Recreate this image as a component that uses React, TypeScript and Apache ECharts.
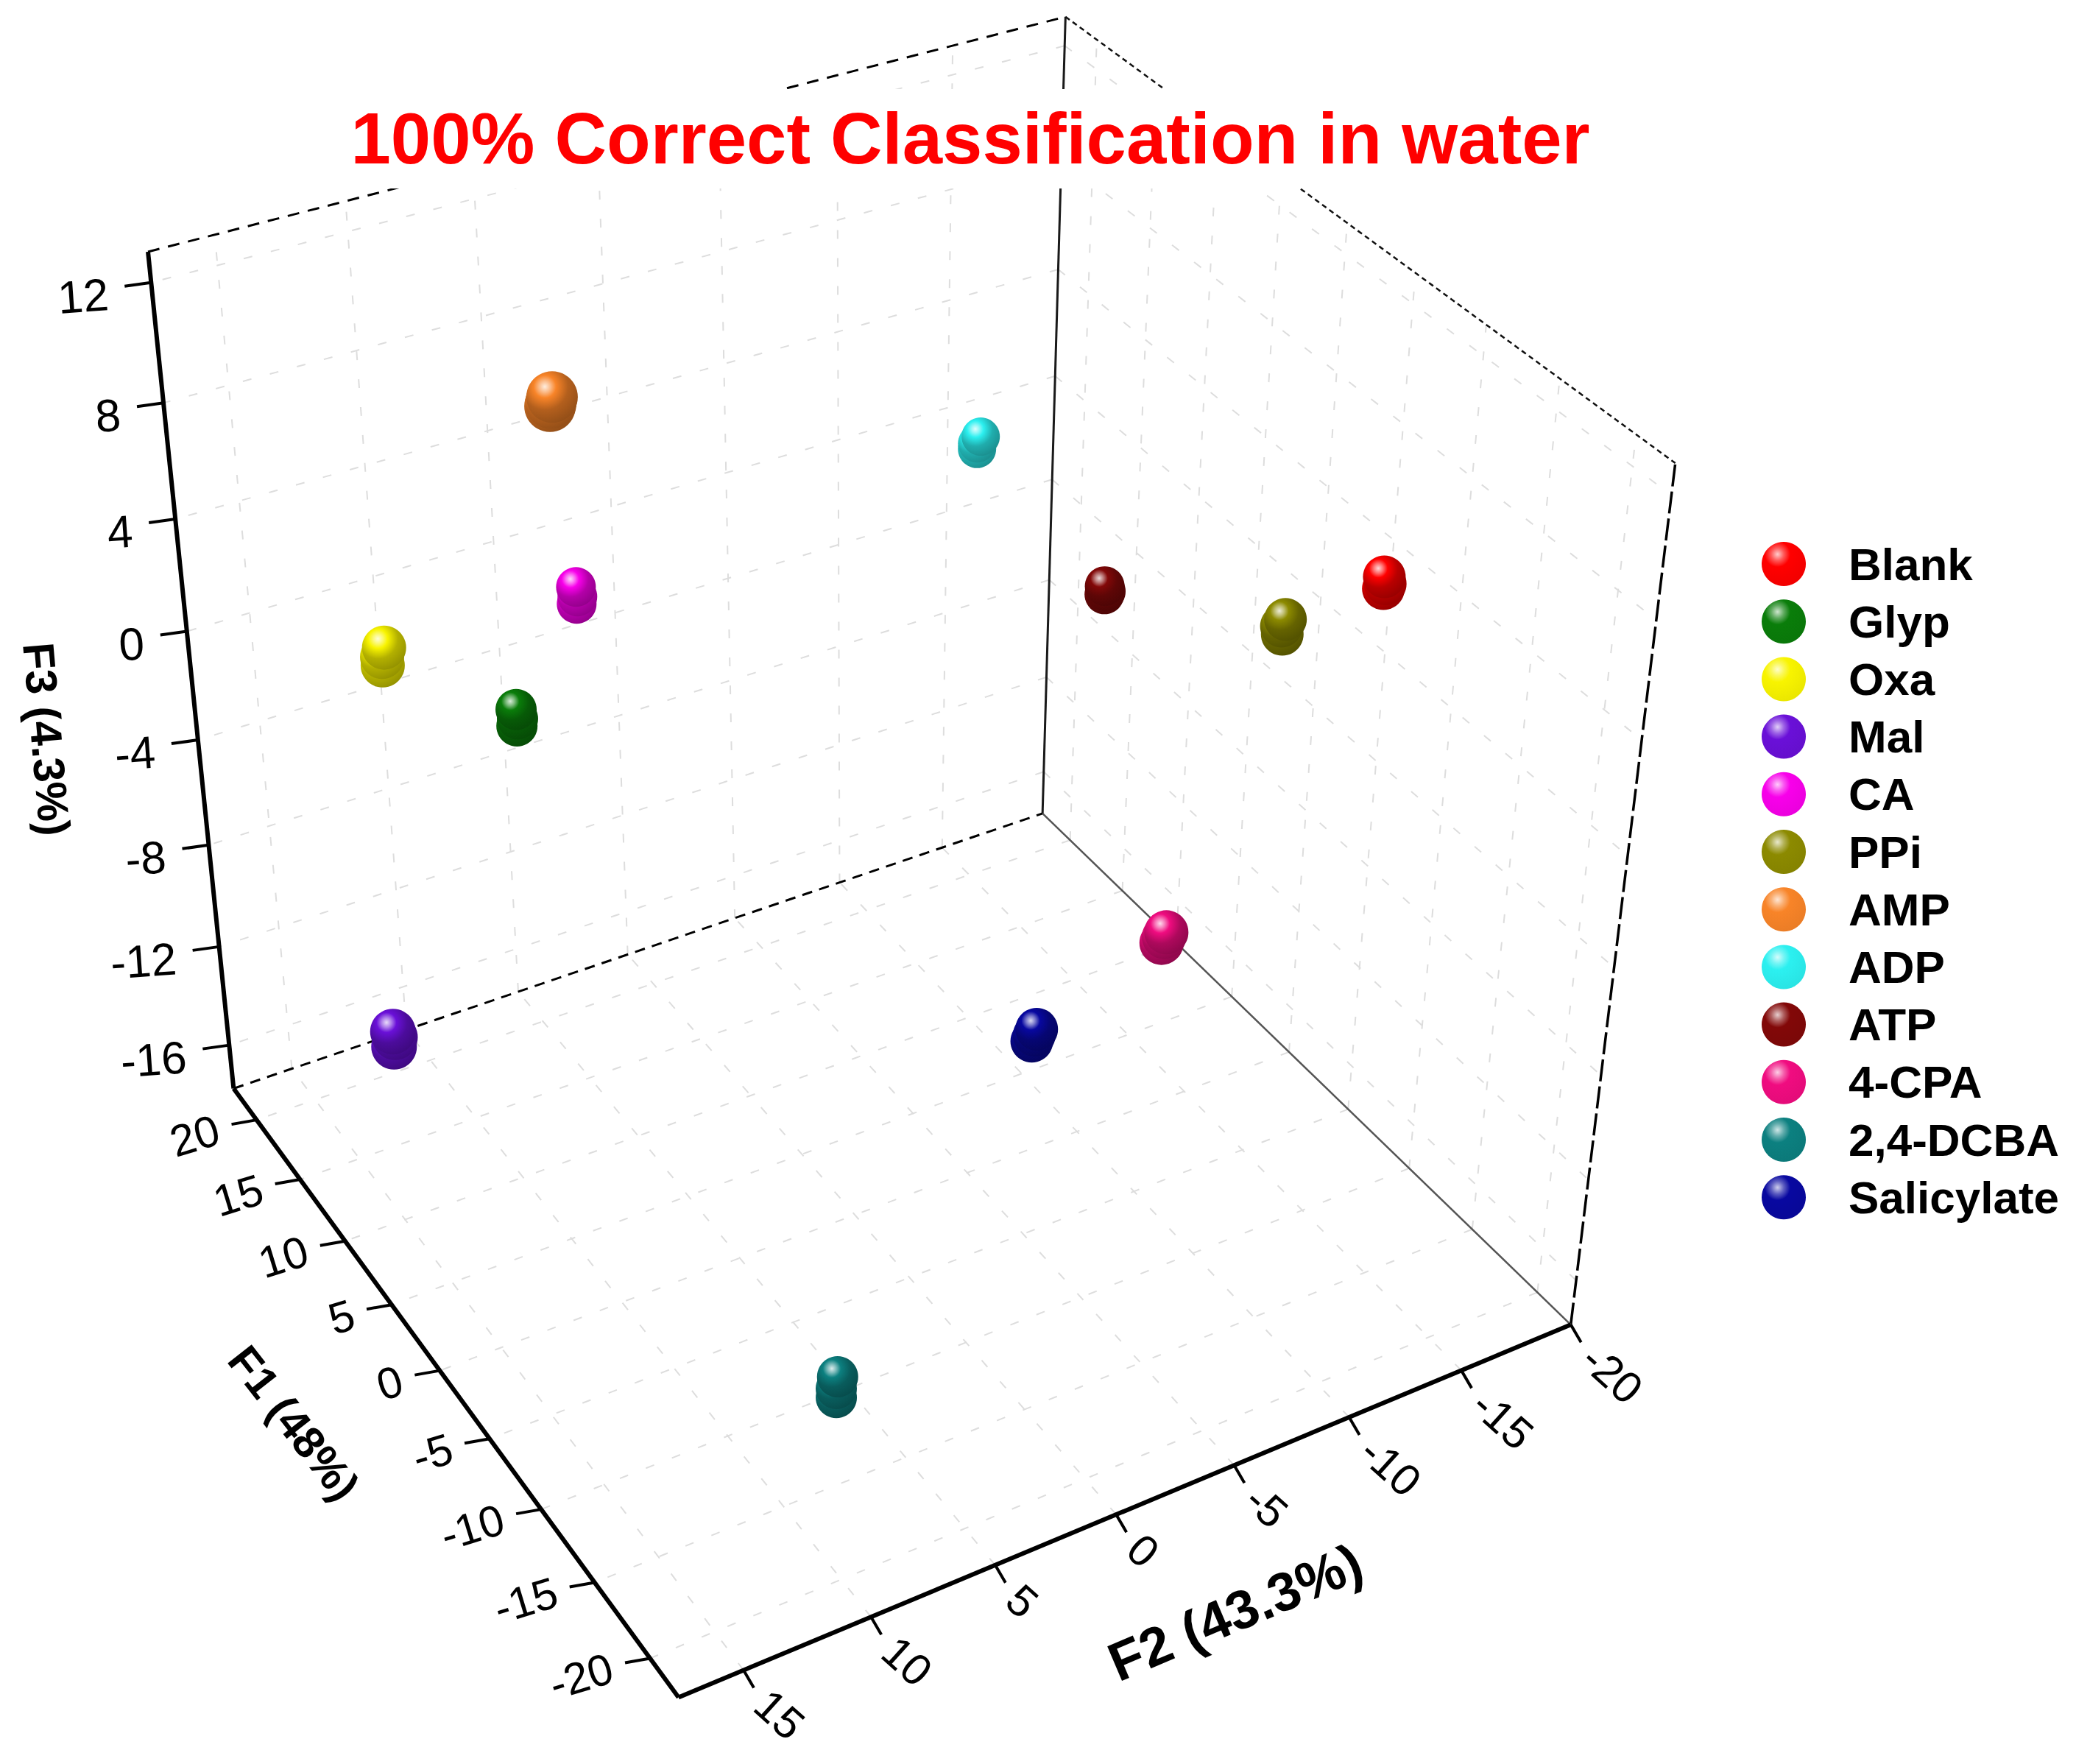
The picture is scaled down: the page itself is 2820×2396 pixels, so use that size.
import React, { useEffect, useRef } from "react";
import * as echarts from "echarts";

const W = 2820, H = 2396;
const FONT = "Liberation Sans";

const TITLE = "100% Correct Classification in water";
const names = ["Blank","Glyp","Oxa","Mal","CA","PPi","AMP","ADP","ATP","4-CPA","2,4-DCBA","Salicylate"];
const colors = ["#ff0000","#0a7d0a","#f8f400","#6a10d8","#f800ea","#8c8a00","#f88428","#2cf0f0","#820808","#f00c80","#0c8080","#0808a0"];
const sphereSize = [58,56,60,62,54,58,70,52,54,60,56,58];

// replicate scores per analyte: [F1, F2, F3]
const blank = [[-9.4,-16.9,4.8],[-9.5,-16.9,5.0],[-9.4,-16.9,5.2]];
const glyp = [[13.3,8.0,-2.3],[13.2,8.0,-2.0],[13.3,8.0,-1.7]];
const oxa = [[12.5,13.4,1.7],[12.5,13.4,2.0],[12.5,13.3,2.3]];
const mal = [[12.4,14.1,-12.3],[12.5,14.0,-12.0],[12.4,14.1,-11.7]];
const ca = [[12.7,5.6,1.7],[12.6,5.6,2.0],[12.7,5.6,2.3]];
const ppi = [[-4.7,-15.5,1.75],[-4.6,-15.5,2.0],[-4.7,-15.6,2.25]];
const amp = [[19.1,3.8,5.85],[19.0,3.8,6.0],[19.1,3.7,6.15]];
const adp = [[10.9,-10.4,3.8],[10.9,-10.4,4.0],[10.8,-10.5,4.25]];
const atp = [[5.4,-13.3,-0.15],[5.3,-13.3,0],[5.4,-13.3,0.15]];
const cpa = [[-1.7,-12.6,-10.2],[-1.7,-12.7,-10.0],[-1.7,-12.8,-9.85]];
const dcba = [[-17.7,9.1,-12.35],[-17.7,9.1,-12.0],[-17.6,9.0,-11.65]];
const salicylate = [[-4.9,-5.2,-10.2],[-4.9,-5.3,-10.0],[-4.9,-5.4,-9.8]];
const scores = [blank,glyp,oxa,mal,ca,ppi,amp,adp,atp,cpa,dcba,salicylate];

const F1_RANGE = [-22.5,22.7];
const F2_RANGE = [-20,17.5];
const F3_RANGE = [-17.8,13];
const F1_TICKS = [20,15,10,5,0,-5,-10,-15,-20];
const F2_TICKS = [-20,-15,-10,-5,0,5,10,15];
const F3_TICKS = [12,8,4,0,-4,-8,-12,-16];

// Camera calibration: unit-box corner -> page position of that box corner
const CALIBRATION: number[][] = [
 [1,1,0,318,1478],[0,1,0,921,2306],[0,0,0,2135,1798],[1,0,0,1415,1106],
 [1,1,1,201,342],[1,0,1,1448,22],[0,0,1,2275,630]];

function solve(A:number[][],b:number[]){const n=b.length;const M=A.map((r,i)=>[...r,b[i]]);
 for(let c=0;c<n;c++){let p=c;for(let r=c+1;r<n;r++)if(Math.abs(M[r][c])>Math.abs(M[p][c]))p=r;[M[c],M[p]]=[M[p],M[c]];
  for(let r=0;r<n;r++)if(r!==c){const f=M[r][c]/M[c][c];for(let k=c;k<=n;k++)M[r][k]-=f*M[c][k];}}
 return M.map((r,i)=>r[n]/r[i]);}
function camera(){const R:number[][]=[],B:number[]=[];
 for(const [X,Y,Z,u0,v0] of CALIBRATION){const u=u0/1000,v=v0/1000;
  R.push([X,Y,Z,1,0,0,0,0,-u*X,-u*Y,-u*Z]);B.push(u);
  R.push([0,0,0,0,X,Y,Z,1,-v*X,-v*Y,-v*Z]);B.push(v);}
 const n=11;const A=Array.from({length:n},()=>new Array(n).fill(0));const b=new Array(n).fill(0);
 R.forEach((r,i)=>{for(let a=0;a<n;a++){b[a]+=r[a]*B[i];for(let c=0;c<n;c++)A[a][c]+=r[a]*r[c];}});
 return solve(A,b);}
const P=camera();
const nrm=(f:number,r:number[])=>(f-r[0])/(r[1]-r[0]);
function proj(a:number,b:number,c:number){const X=nrm(a,F1_RANGE),Y=nrm(b,F2_RANGE),Z=nrm(c,F3_RANGE);
 const w=P[8]*X+P[9]*Y+P[10]*Z+1;return [1000*(P[0]*X+P[1]*Y+P[2]*Z+P[3])/w,1000*(P[4]*X+P[5]*Y+P[6]*Z+P[7])/w];}

const [f1a,f1b]=[F1_RANGE[0],F1_RANGE[1]],[f2a,f2b]=[F2_RANGE[0],F2_RANGE[1]],[f3a,f3b]=[F3_RANGE[0],F3_RANGE[1]];
const seg=(p:number[],q:number[])=>[p[0],p[1],q[0],q[1]];

function mix(hex:string,t:number,toward:number){const n=parseInt(hex.slice(1),16);
 const c=[n>>16&255,n>>8&255,n&255].map(v=>Math.round(v+(toward-v)*t));return `rgb(${c.join(",")})`;}
const sphere=(c:string)=>({type:"radial",x:0.36,y:0.3,r:0.78,colorStops:[
 {offset:0,color:mix(c,0.85,255)},{offset:0.14,color:mix(c,0.45,255)},{offset:0.28,color:c},
 {offset:0.58,color:mix(c,0.28,0)},{offset:1,color:mix(c,0.42,0)}]});
const legendSphere=(c:string)=>({type:"radial",x:0.36,y:0.28,r:0.8,colorStops:[
 {offset:0,color:mix(c,0.8,255)},{offset:0.18,color:mix(c,0.35,255)},{offset:0.36,color:c},{offset:1,color:mix(c,0.06,0)}]});

function lineSeries(data:number[][],style:any,z:number){return {type:"custom",coordinateSystem:"cartesian2d",silent:true,z,
 encode:{x:[0,2],y:[1,3]},data,
 renderItem:(_:any,api:any)=>{const a=api.coord([api.value(0),api.value(1)]),b=api.coord([api.value(2),api.value(3)]);
  return {type:"line",shape:{x1:a[0],y1:a[1],x2:b[0],y2:b[1]},style:{fill:null,...style}};}};}
function textSeries(items:{p:number[];t:string;rot:number;align:string;size:number;weight:string}[]){return {type:"custom",coordinateSystem:"cartesian2d",silent:true,z:4,
 encode:{x:0,y:1},data:items.map(i=>i.p),
 renderItem:(params:any,api:any)=>{const it=items[params.dataIndex];const a=api.coord([api.value(0),api.value(1)]);
  return {type:"text",x:a[0],y:a[1],rotation:it.rot*Math.PI/180,style:{text:it.t,fill:"#000",fontFamily:FONT,fontSize:it.size,fontWeight:it.weight,align:it.align,verticalAlign:"middle"}};}};}

export default function App(){const ref=useRef<HTMLDivElement>(null);
 useEffect(()=>{const c=echarts.init(ref.current!,null,{renderer:"svg"});
  const grid:number[][]=[];
  F1_TICKS.forEach(t=>{grid.push(seg(proj(t,f2a,f3a),proj(t,f2b,f3a)));grid.push(seg(proj(t,f2a,f3a),proj(t,f2a,f3b)));});
  F2_TICKS.filter(t=>t!==f2a).forEach(t=>{grid.push(seg(proj(f1a,t,f3a),proj(f1b,t,f3a)));grid.push(seg(proj(f1b,t,f3a),proj(f1b,t,f3b)));});
  F3_TICKS.forEach(t=>{grid.push(seg(proj(f1b,f2a,t),proj(f1b,f2b,t)));grid.push(seg(proj(f1b,f2a,t),proj(f1a,f2a,t)));});
  const axes=[seg(proj(f1b,f2b,f3a),proj(f1b,f2b,f3b)),seg(proj(f1b,f2b,f3a),proj(f1a,f2b,f3a)),seg(proj(f1a,f2b,f3a),proj(f1a,f2a,f3a))];
  const ticks:number[][]=[];
  const labels:any[]=[];
  F3_TICKS.forEach(t=>{const p=proj(f1b,f2b,t);ticks.push(seg(p,[p[0]-36,p[1]+5]));
   labels.push({p:[p[0]-58,p[1]+16],t:String(t),rot:4,align:"right",size:62,weight:"normal"});});
  F1_TICKS.forEach(t=>{const p=proj(t,f2b,f3a);ticks.push(seg(p,[p[0]-34,p[1]+6]));
   labels.push({p:[p[0]-52,p[1]+12],t:String(t),rot:17,align:"right",size:60,weight:"normal"});});
  F2_TICKS.forEach(t=>{const p=proj(f1a,t,f3a);ticks.push(seg(p,[p[0]+14,p[1]+24]));
   labels.push({p:[p[0]+24,p[1]+38],t:String(t),rot:-42,align:"left",size:60,weight:"normal"});});
  labels.push({p:[399,1933],t:"F1 (48%)",rot:-52,align:"center",size:60,weight:"bold"});
  labels.push({p:[1678,2190],t:"F2 (43.3%)",rot:23,align:"center",size:74,weight:"bold"});
  labels.push({p:[63,1004],t:"F3 (4.3%)",rot:-85,align:"center",size:60,weight:"bold"});
  c.setOption({animation:false,backgroundColor:"#ffffff",
   xAxis:{show:false,type:"value",min:0,max:W},yAxis:{show:false,type:"value",min:0,max:H,inverse:true},
   grid:{left:0,right:0,top:0,bottom:0},
   title:{text:TITLE,left:1318,top:121,textAlign:"center",padding:0,z:8,backgroundColor:"#ffffff",
    textStyle:{color:"#ff0000",fontFamily:FONT,fontWeight:"bold",fontSize:97.7,lineHeight:135}},
   legend:{orient:"vertical",left:2393,top:735,padding:0,itemWidth:166,itemHeight:60,itemGap:16.2,selectedMode:false,
    textStyle:{color:"#000",fontFamily:FONT,fontWeight:"bold",fontSize:62,lineHeight:60},
    data:names.map((n,i)=>({name:n,icon:"circle",itemStyle:{color:legendSphere(colors[i])}}))},
   series:[
    lineSeries(grid,{stroke:"#dddddd",lineWidth:2,lineDash:[12,26]},1),
    lineSeries([seg(proj(f1b,f2a,f3a),proj(f1b,f2a,f3b))],{stroke:"#1a1a1a",lineWidth:3},2),
    lineSeries([seg(proj(f1a,f2a,f3a),proj(f1a,f2a,f3b))],{stroke:"#000",lineWidth:3.5,lineDash:[30,7]},2),
    lineSeries([seg(proj(f1b,f2b,f3b),proj(f1b,f2a,f3b))],{stroke:"#000",lineWidth:3,lineDash:[16,12]},2),
    lineSeries([seg(proj(f1b,f2a,f3b),proj(f1a,f2a,f3b))],{stroke:"#111",lineWidth:2.5,lineDash:[7,5]},2),
    lineSeries([seg(proj(f1b,f2b,f3a),proj(f1b,f2a,f3a))],{stroke:"#000",lineWidth:3,lineDash:[14,10]},2),
    lineSeries([seg(proj(f1b,f2a,f3a),proj(f1a,f2a,f3a))],{stroke:"#555",lineWidth:2.5},2),
    lineSeries(axes,{stroke:"#000",lineWidth:6},3),
    lineSeries(ticks,{stroke:"#000",lineWidth:4},3),
    textSeries(labels),
    ...names.map((n,i)=>({type:"scatter",name:n,z:5,silent:true,symbol:"circle",symbolSize:sphereSize[i],
     itemStyle:{color:sphere(colors[i]),opacity:1},
     data:scores[i].map(s=>proj(s[0],s[1],s[2]))})),
   ]});
  return ()=>c.dispose();},[]);
 return <div ref={ref} style={{position:"absolute",left:0,top:0,width:W,height:H}}/>;}
